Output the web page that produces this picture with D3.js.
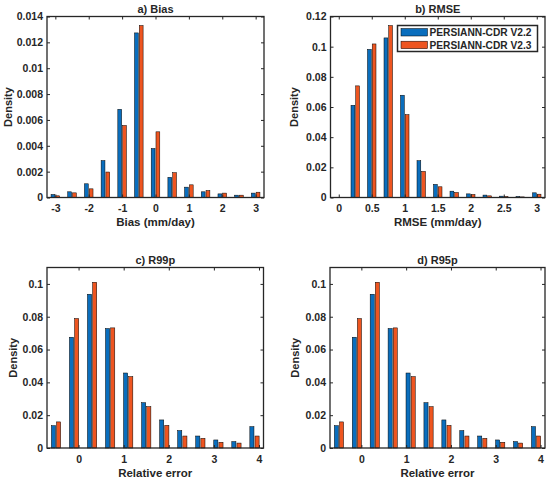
<!DOCTYPE html>
<html>
<head>
<meta charset="utf-8">
<script src="https://cdn.jsdelivr.net/npm/d3@7"></script>
<style>
  body { margin: 0; background: #fff; }
  svg text { font-family: "Liberation Sans", Arial, sans-serif; font-weight: bold; fill: #262626; }
</style>
</head>
<body>
<div id="canvas"></div>
<script>
// Datos de cada panel (densidad por clase)
const seriesNames = ["PERSIANN-CDR V2.2", "PERSIANN-CDR V2.3"];

const biasBins = [-3, -2.5, -2, -1.5, -1, -0.5, 0, 0.5, 1, 1.5, 2, 2.5, 3];
const biasV22 = [0.00023, 0.00044, 0.00106, 0.00285, 0.00682, 0.01273, 0.00379, 0.00156, 0.0008, 0.00044, 0.00028, 0.00018, 0.00034];
const biasV23 = [0.00013, 0.00036, 0.00067, 0.00197, 0.00557, 0.0133, 0.00508, 0.00192, 0.00098, 0.00054, 0.00034, 0.00018, 0.00041];
const biasXTicks = [-3, -2, -1, 0, 1, 2, 3];
const biasYTicks = [0, 0.002, 0.004, 0.006, 0.008, 0.01, 0.012, 0.014];

const rmseBins = [0, 0.25, 0.5, 0.75, 1, 1.25, 1.5, 1.75, 2, 2.25, 2.5, 2.75, 3];
const rmseV22 = [0, 0.0611, 0.0982, 0.1058, 0.0678, 0.0244, 0.0087, 0.0042, 0.0024, 0.0016, 0.0009, 0.0007, 0.0031];
const rmseV23 = [0, 0.074, 0.1018, 0.114, 0.0549, 0.0173, 0.0071, 0.0033, 0.002, 0.0011, 0.0007, 0.0004, 0.0022];
const rmseXTicks = [0, 0.5, 1, 1.5, 2, 2.5, 3];
const rmseYTicks = [0, 0.02, 0.04, 0.06, 0.08, 0.1, 0.12];

const relBins = [-0.5, -0.1, 0.3, 0.7, 1.1, 1.5, 1.9, 2.3, 2.7, 3.1, 3.5, 3.9];
const r99pV22 = [0.0136, 0.0675, 0.0937, 0.0728, 0.0457, 0.0276, 0.0171, 0.0106, 0.0073, 0.0049, 0.0039, 0.013];
const r99pV23 = [0.0159, 0.0789, 0.101, 0.0732, 0.0435, 0.0252, 0.0138, 0.0073, 0.0059, 0.0035, 0.003, 0.0073];
const r95pV22 = [0.0136, 0.0675, 0.0937, 0.0728, 0.0457, 0.0276, 0.0171, 0.0106, 0.0073, 0.0049, 0.0039, 0.013];
const r95pV23 = [0.0159, 0.0789, 0.101, 0.0732, 0.0435, 0.0252, 0.0138, 0.0073, 0.0059, 0.0035, 0.003, 0.0073];
const relXTicks = [0, 1, 2, 3, 4];
const relYTicks = [0, 0.02, 0.04, 0.06, 0.08, 0.1];

const colors = ["#0A6EBD", "#EE5520"];

const width = 550;
const height = 482;

const svg = d3.select("#canvas").append("svg")
    .attr("width", width)
    .attr("height", height);

// Formato tipo MATLAB: sin ceros sobrantes y con guion normal
const fmt = d => String(+d.toFixed(4));

function drawPanel(p) {
    const g = svg.append("g").attr("transform", `translate(${p.left}, ${p.top})`);
    const iw = p.w, ih = p.h;

    const x = d3.scaleLinear().domain(p.xlim).range([0, iw]);
    const y = d3.scaleLinear().domain(p.ylim).range([ih, 0]);

    // Barras agrupadas (ancho y desplazamiento como en bar() de MATLAB)
    const step = p.bins[1] - p.bins[0];
    const barW = 0.2286 * step;
    const offs = [-0.1429 * step, 0.1429 * step];
    [p.s1, p.s2].forEach((vals, i) => {
        g.selectAll(null).data(p.bins.map((b, k) => ({ b: b, v: vals[k] })))
            .enter().append("rect")
            .attr("x", d => x(d.b + offs[i] - barW / 2))
            .attr("width", d => x(d.b + offs[i] + barW / 2) - x(d.b + offs[i] - barW / 2))
            .attr("y", d => y(d.v))
            .attr("height", d => y(0) - y(d.v))
            .attr("fill", colors[i])
            .attr("stroke", "#000")
            .attr("stroke-width", 0.5);
    });

    // Ejes con marcas hacia adentro
    const styleAxis = sel => {
        sel.select(".domain").remove();
        sel.selectAll("line").attr("stroke", "#262626").attr("stroke-width", 1);
        sel.selectAll("text").style("font-size", "10.5px").attr("fill", "#262626");
    };
    g.append("g").attr("transform", `translate(0, ${ih})`)
        .call(d3.axisBottom(x).tickValues(p.xticks).tickFormat(fmt).tickSizeInner(-3).tickSizeOuter(0).tickPadding(7.5))
        .call(styleAxis);
    g.append("g")
        .call(d3.axisTop(x).tickValues(p.xticks).tickFormat("").tickSizeInner(-3).tickSizeOuter(0))
        .call(styleAxis);
    g.append("g")
        .call(d3.axisLeft(y).tickValues(p.yticks).tickFormat(fmt).tickSizeInner(-3).tickSizeOuter(0).tickPadding(4))
        .call(styleAxis);
    g.append("g").attr("transform", `translate(${iw}, 0)`)
        .call(d3.axisRight(y).tickValues(p.yticks).tickFormat("").tickSizeInner(-3).tickSizeOuter(0))
        .call(styleAxis);

    // Caja del panel
    g.append("rect")
        .attr("width", iw).attr("height", ih)
        .attr("fill", "none").attr("stroke", "#262626").attr("stroke-width", 1.3);

    // Titulo
    g.append("text")
        .attr("text-anchor", "middle")
        .style("font-size", "11px")
        .attr("x", iw / 2)
        .attr("y", -3.8)
        .text(p.title);

    // Etiqueta del eje x
    g.append("text")
        .attr("text-anchor", "middle")
        .style("font-size", "11.5px")
        .attr("x", iw / 2)
        .attr("y", ih + 28.5)
        .text(p.xlabel);

    // Etiqueta del eje y
    g.append("text")
        .attr("text-anchor", "middle")
        .style("font-size", "11px")
        .attr("transform", `translate(${-p.ylabelOff}, ${ih / 2}) rotate(-90)`)
        .text("Density");

    return { g: g, x: x, y: y };
}

drawPanel({ left: 47, top: 16.5, w: 217, h: 181, bins: biasBins, s1: biasV22, s2: biasV23,
    xlim: [-3.25, 3.25], ylim: [0, 0.014], xticks: biasXTicks, yticks: biasYTicks,
    title: "a) Bias", xlabel: "Bias (mm/day)", ylabelOff: 35.5 });

const pb = drawPanel({ left: 330.5, top: 16.5, w: 214.5, h: 181, bins: rmseBins, s1: rmseV22, s2: rmseV23,
    xlim: [-0.125, 3.125], ylim: [0, 0.12], xticks: rmseXTicks, yticks: rmseYTicks,
    title: "b) RMSE", xlabel: "RMSE (mm/day)", ylabelOff: 32.5 });

drawPanel({ left: 47, top: 267.5, w: 216.5, h: 180.5, bins: relBins, s1: r99pV22, s2: r99pV23,
    xlim: [-0.7, 4.1], ylim: [0, 0.11], xticks: relXTicks, yticks: relYTicks,
    title: "c) R99p", xlabel: "Relative error", ylabelOff: 30.5 });

drawPanel({ left: 330, top: 267.5, w: 215, h: 180.5, bins: relBins, s1: r95pV22, s2: r95pV23,
    xlim: [-0.7, 4.1], ylim: [0, 0.11], xticks: relXTicks, yticks: relYTicks,
    title: "d) R95p", xlabel: "Relative error", ylabelOff: 31 });

// Leyenda en el panel b
const legend = pb.g.append("g").attr("transform", "translate(67, 9)");
legend.append("rect")
    .attr("width", 140).attr("height", 26)
    .attr("fill", "#fff").attr("stroke", "#262626").attr("stroke-width", 1.5);
seriesNames.forEach((name, i) => {
    legend.append("rect")
        .attr("x", 3.5).attr("y", 3 + i * 12.7)
        .attr("width", 26.5).attr("height", 7.5)
        .attr("fill", colors[i]).attr("stroke", "#000").attr("stroke-width", 0.5);
    legend.append("text")
        .attr("x", 32)
        .attr("y", 10.3 + i * 12.7)
        .style("font-size", "10.2px")
        .text(name);
});
</script>
</body>
</html>
